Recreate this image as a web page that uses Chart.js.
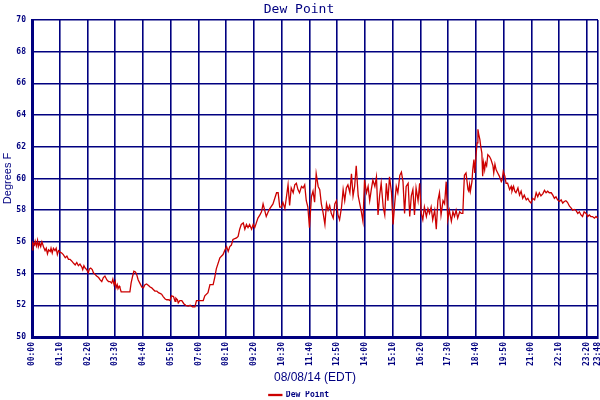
<!DOCTYPE html>
<html>
<head>
<meta charset="utf-8">
<script src="https://cdn.jsdelivr.net/npm/chart.js@4"></script>
<style>
  html, body { margin: 0; padding: 0; background: #fff; }
</style>
</head>
<body>
<canvas id="dewChart" width="600" height="400"></canvas>
<script>
const tickLabels = ['00:00', '01:10', '02:20', '03:30', '04:40', '05:50', '07:00', '08:10',
    '09:20', '10:30', '11:40', '12:50', '14:00', '15:10', '16:20', '17:30', '18:40', '19:50',
    '21:00', '22:10', '23:20', '23:48'];

const yMin = 50;
const yMax = 70;
const yStep = 2;

// minutes after midnight, 08/08/14
const sampleMinutes = [
    0, 2, 6, 8, 11, 14, 16, 19, 22, 25, 29, 33, 36, 39, 42, 46, 48, 51, 54, 58,
    61, 64, 67, 71, 75, 79, 84, 88, 92, 96, 100, 105, 109, 113, 117, 121, 126, 128, 131, 134,
    138, 142, 145, 148, 152, 155, 159, 163, 168, 172, 176, 180, 184, 189, 193, 197, 201, 204, 207, 210,
    212, 215, 217, 220, 222, 225, 247, 250, 254, 257, 261, 264, 268, 273, 277, 281, 285, 289, 294, 298,
    302, 306, 310, 315, 319, 323, 327, 331, 336, 340, 344, 348, 352, 357, 361, 363, 367, 369, 373, 378,
    383, 388, 394, 399, 405, 411, 415, 424, 432, 436, 444, 449, 457, 461, 465, 474, 482, 487, 491, 495,
    499, 503, 507, 516, 520, 524, 528, 533, 537, 541, 545, 549, 554, 558, 562, 566, 570, 575, 579, 583,
    587, 591, 596, 600, 608, 617, 621, 625, 629, 633, 638, 642, 646, 650, 654, 659, 663, 667, 671, 675,
    680, 684, 688, 692, 696, 700, 705, 709, 713, 717, 722, 726, 730, 734, 739, 743, 747, 751, 755, 760,
    764, 768, 772, 776, 781, 785, 789, 793, 797, 802, 806, 810, 814, 818, 823, 827, 831, 835, 839, 844,
    848, 852, 856, 860, 865, 869, 873, 877, 881, 886, 890, 894, 898, 902, 907, 911, 915, 919, 923, 928,
    932, 936, 940, 944, 949, 953, 957, 961, 965, 969, 974, 978, 982, 986, 990, 995, 999, 1003, 1007, 1011,
    1016, 1020, 1024, 1028, 1032, 1037, 1041, 1045, 1049, 1053, 1058, 1062, 1066, 1070, 1074, 1079, 1083, 1087, 1089, 1091,
    1095, 1100, 1102, 1104, 1106, 1110, 1112, 1115, 1117, 1121, 1123, 1125, 1127, 1130, 1132, 1135, 1137, 1139, 1142, 1144,
    1147, 1150, 1154, 1158, 1163, 1165, 1168, 1171, 1175, 1179, 1184, 1186, 1189, 1193, 1196, 1200, 1205, 1209, 1211, 1215,
    1218, 1221, 1226, 1230, 1234, 1238, 1242, 1247, 1251, 1255, 1259, 1263, 1268, 1272, 1276, 1280, 1284, 1289, 1293, 1297,
    1301, 1305, 1310, 1314, 1318, 1322, 1326, 1331, 1335, 1339, 1343, 1347, 1351, 1356, 1360, 1364, 1368, 1372, 1377, 1381,
    1385, 1389, 1393, 1398, 1402, 1406, 1410, 1414, 1419, 1423, 1427
];

const dewPointF = [
    55.5, 55.95, 55.8, 56.05, 55.75, 56.1, 55.7, 55.95, 55.7, 56.0, 55.7, 55.45, 55.6, 55.25, 55.5, 55.4, 55.6, 55.3, 55.6, 55.45,
    55.6, 55.2, 55.45, 55.35, 55.3, 55.2, 55.0, 55.1, 54.9, 54.9, 54.8, 54.65, 54.55, 54.7, 54.5, 54.6, 54.4, 54.25, 54.5, 54.35,
    54.25, 54.05, 54.3, 54.35, 54.25, 54.05, 53.95, 53.85, 53.75, 53.6, 53.5, 53.75, 53.85, 53.6, 53.5, 53.5, 53.4, 53.65, 53.3, 53.5,
    53.1, 53.3, 53.05, 53.2, 53.1, 52.85, 52.85, 53.4, 53.85, 54.15, 54.1, 53.95, 53.6, 53.35, 53.15, 53.1, 53.3, 53.35, 53.25, 53.15,
    53.1, 53.0, 52.9, 52.9, 52.8, 52.75, 52.7, 52.55, 52.4, 52.35, 52.35, 52.3, 52.6, 52.55, 52.25, 52.45, 52.35, 52.15, 52.3, 52.3,
    52.1, 52.0, 51.95, 52.0, 51.9, 51.9, 52.3, 52.3, 52.3, 52.6, 52.8, 53.3, 53.3, 53.75, 54.3, 55.0, 55.2, 55.5, 55.7, 55.4,
    55.7, 55.8, 56.15, 56.25, 56.35, 56.8, 57.1, 57.2, 56.8, 57.1, 56.9, 57.1, 56.8, 57.1, 56.9, 57.2, 57.5, 57.7, 57.9, 58.4,
    58.0, 57.6, 57.9, 58.1, 58.4, 59.1, 59.1, 58.2, 58.2, 58.5, 58.1, 58.85, 59.6, 58.3, 59.4, 59.1, 59.6, 59.7, 59.3, 59.1,
    59.5, 59.4, 59.6, 58.6, 58.2, 56.9, 58.85, 59.2, 58.5, 60.3, 59.5, 59.3, 58.4, 57.9, 57.1, 58.4, 58.0, 58.3, 57.8, 57.5,
    58.4, 58.6, 57.7, 57.4, 58.2, 59.3, 58.6, 59.4, 59.6, 59.1, 60.3, 58.9, 59.5, 60.8, 58.9, 58.4, 57.9, 57.3, 59.9, 59.1,
    59.5, 58.6, 59.3, 59.9, 59.5, 60.1, 57.7, 58.9, 59.7, 58.2, 57.7, 59.7, 58.6, 60.1, 59.1, 57.1, 58.4, 59.5, 59.1, 60.2,
    60.4, 59.8, 57.8, 59.5, 59.7, 57.6, 58.9, 59.3, 57.7, 59.4, 58.6, 59.7, 57.8, 57.4, 58.2, 57.6, 58.1, 57.8, 58.2, 57.4,
    58.0, 56.8, 58.6, 59.1, 57.7, 58.6, 58.4, 59.8, 57.4, 58.0, 57.3, 57.9, 57.6, 58.0, 57.5, 57.9, 57.8, 57.8, 59.1, 60.2,
    60.35, 59.3, 59.2, 59.6, 59.2, 59.8, 60.55, 61.2, 60.35, 61.7, 62.25, 63.1, 62.8, 62.45, 62.05, 61.6, 60.15, 61.0, 60.55, 61.0,
    60.8, 61.5, 61.4, 61.2, 60.8, 60.35, 60.9, 60.55, 60.35, 60.15, 59.8, 59.9, 60.45, 60.15, 59.7, 59.7, 59.3, 59.5, 59.2, 59.5,
    59.2, 59.1, 59.4, 58.95, 59.2, 58.75, 58.95, 58.65, 58.75, 58.55, 58.45, 58.75, 58.65, 59.1, 58.85, 59.1, 58.9, 59.05, 59.25, 59.1,
    59.2, 59.1, 59.1, 58.95, 58.75, 58.85, 58.65, 58.55, 58.65, 58.45, 58.55, 58.6, 58.5, 58.25, 58.15, 58.0, 58.05, 58.0, 57.8, 57.9,
    57.7, 57.6, 57.9, 57.8, 57.6, 57.7, 57.6, 57.6, 57.5, 57.6, 57.5
];

const NAVY = '#000080';
const RED = '#cc0000';
const tickFont = { family: 'DejaVu Sans Mono', size: 8, weight: 'bold' };

function toMinutes(hhmm) {
    const [h, m] = hhmm.split(':').map(Number);
    return h * 60 + m;
}

const tickMinutes = tickLabels.map(toMinutes);
const points = sampleMinutes.map((m, i) => ({ x: m, y: dewPointF[i] }));

const ctx = document.getElementById('dewChart').getContext('2d');
new Chart(ctx, {
    type: 'line',
    data: {
        datasets: [{
            label: 'Dew Point',
            data: points,
            borderColor: RED,
            backgroundColor: RED,
            borderWidth: 1.3,
            pointRadius: 0,
            tension: 0
        }]
    },
    options: {
        responsive: false,
        animation: false,
        layout: { padding: { left: 0, right: 2, top: 0, bottom: -9 } },
        plugins: {
            title: {
                display: true,
                text: 'Dew Point',
                color: NAVY,
                font: { family: 'DejaVu Sans Mono', size: 13, weight: 'normal', lineHeight: 1.2 },
                padding: { top: 2, bottom: 2.4 }
            },
            legend: {
                position: 'bottom',
                labels: {
                    color: NAVY,
                    font: tickFont,
                    boxWidth: 13,
                    boxHeight: 1,
                    padding: 0
                }
            },
            tooltip: { enabled: false }
        },
        scales: {
            x: {
                type: 'linear',
                min: tickMinutes[0],
                max: tickMinutes[tickMinutes.length - 1],
                afterBuildTicks: (scale) => {
                    scale.ticks = tickMinutes.map(v => ({ value: v }));
                },
                afterFit: (scale) => {
                    scale.height = 54;
                    scale.paddingLeft = 0;
                    scale.paddingRight = 0;
                },
                border: { color: NAVY, width: 3 },
                grid: { color: NAVY, lineWidth: 1.6, drawTicks: false },
                ticks: {
                    color: NAVY,
                    font: tickFont,
                    autoSkip: false,
                    maxRotation: 90,
                    minRotation: 90,
                    padding: 5,
                    callback: (value, index) => tickLabels[index]
                },
                title: {
                    display: true,
                    text: '08/08/14 (EDT)',
                    color: NAVY,
                    font: { family: 'Liberation Sans', size: 12 },
                    padding: { top: 0, bottom: 6 }
                }
            },
            y: {
                min: yMin,
                max: yMax,
                afterFit: (scale) => {
                    scale.width = 32;
                    scale.paddingTop = 0;
                    scale.paddingBottom = 0;
                },
                border: { color: NAVY, width: 3 },
                grid: { color: NAVY, lineWidth: 1.6, drawTicks: false },
                ticks: {
                    stepSize: yStep,
                    color: NAVY,
                    font: tickFont,
                    padding: 6
                },
                title: {
                    display: true,
                    text: 'Degrees F',
                    color: NAVY,
                    font: { family: 'Liberation Sans', size: 11 },
                    padding: { top: 1.4, bottom: 0 }
                }
            }
        }
    }
});
</script>
</body>
</html>
